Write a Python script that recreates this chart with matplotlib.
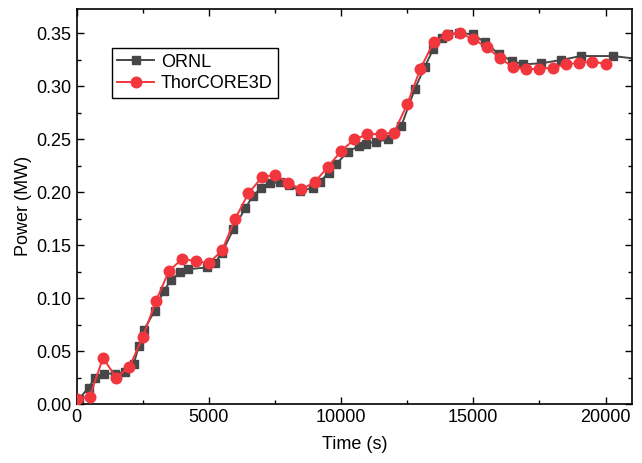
import matplotlib.pyplot as plt
from matplotlib.ticker import MultipleLocator

plt.rcParams['font.family'] = ['Liberation Sans', 'DejaVu Sans']

# ORNL reference data (irregular time steps)
ornl_t = [100, 455, 705, 1020, 1460, 1840, 2160, 2350, 2540, 2955, 3300, 3570,
          3925, 4215, 4950, 5240, 5500, 5930, 6375, 6665, 6970, 7320, 7700, 8015,
          8460, 8925, 9190, 9530, 9810, 10250, 10665, 10960, 11340, 11765, 12285,
          12790, 13165, 13485, 13825, 14050, 14450, 15000, 15430, 15970, 16450,
          16895, 17550, 18330, 19065, 20290, 21500]
ornl_p = [0.005, 0.0155, 0.0246, 0.0287, 0.0287, 0.030, 0.0375, 0.0545, 0.0697,
          0.088, 0.107, 0.117, 0.1248, 0.1273, 0.129, 0.1333, 0.143, 0.165, 0.1847,
          0.1963, 0.204, 0.2089, 0.2093, 0.2067, 0.2013, 0.2039, 0.2098, 0.2183,
          0.2264, 0.238, 0.2436, 0.246, 0.2476, 0.2499, 0.263, 0.2974, 0.3185,
          0.335, 0.3454, 0.3492, 0.3505, 0.349, 0.3416, 0.3305, 0.324, 0.3208,
          0.3217, 0.3249, 0.3286, 0.3286, 0.325]

# ThorCORE3D results every 500 s
thor_t = list(range(0, 20001, 500))
thor_p = [0.0044, 0.007, 0.0435, 0.025, 0.035, 0.063, 0.097, 0.126, 0.137, 0.135,
          0.133, 0.145, 0.175, 0.199, 0.214, 0.2165, 0.209, 0.2026, 0.2095, 0.2237,
          0.2388, 0.2499, 0.2546, 0.2552, 0.2561, 0.283, 0.3166, 0.3416, 0.3485,
          0.350, 0.3447, 0.3369, 0.327, 0.318, 0.3164, 0.3164, 0.3176, 0.3208,
          0.3223, 0.3232, 0.3214]

fig = plt.figure(figsize=(6.42, 4.63), dpi=100)
ax = fig.add_axes([0.1192, 0.1274, 0.8652, 0.8538])

ax.plot(ornl_t, ornl_p, '-s', color='#474747', lw=1.4, ms=6.2, label='ORNL', zorder=2)
ax.plot(thor_t, thor_p, '-o', color='#f2363d', lw=1.4, ms=7.6, label='ThorCORE3D', zorder=3)

ax.set_xlim(0, 21000)
ax.set_ylim(0, 0.3733)
ax.xaxis.set_major_locator(MultipleLocator(5000))
ax.xaxis.set_minor_locator(MultipleLocator(2500))
ax.yaxis.set_major_locator(MultipleLocator(0.05))
ax.yaxis.set_minor_locator(MultipleLocator(0.025))
ax.yaxis.set_major_formatter(plt.FormatStrFormatter('%.2f'))

ax.tick_params(which='both', direction='in', top=True, right=True, width=1, labelsize=13)
ax.tick_params(which='major', length=5)
ax.tick_params(which='minor', length=3)
for s in ax.spines.values():
    s.set_linewidth(1.2)

ax.set_xlabel('Time (s)', fontsize=13, labelpad=7)
ax.set_ylabel('Power (MW)', fontsize=13, labelpad=3)

leg = ax.legend(loc='upper left', bbox_to_anchor=(0.064, 0.90), fontsize=13,
                fancybox=False, framealpha=1, edgecolor='black', handlelength=2,
                borderaxespad=0, borderpad=0.3, labelspacing=0.25, handletextpad=0.4)
leg.get_frame().set_linewidth(1)

fig.savefig('out.png', dpi=100)
